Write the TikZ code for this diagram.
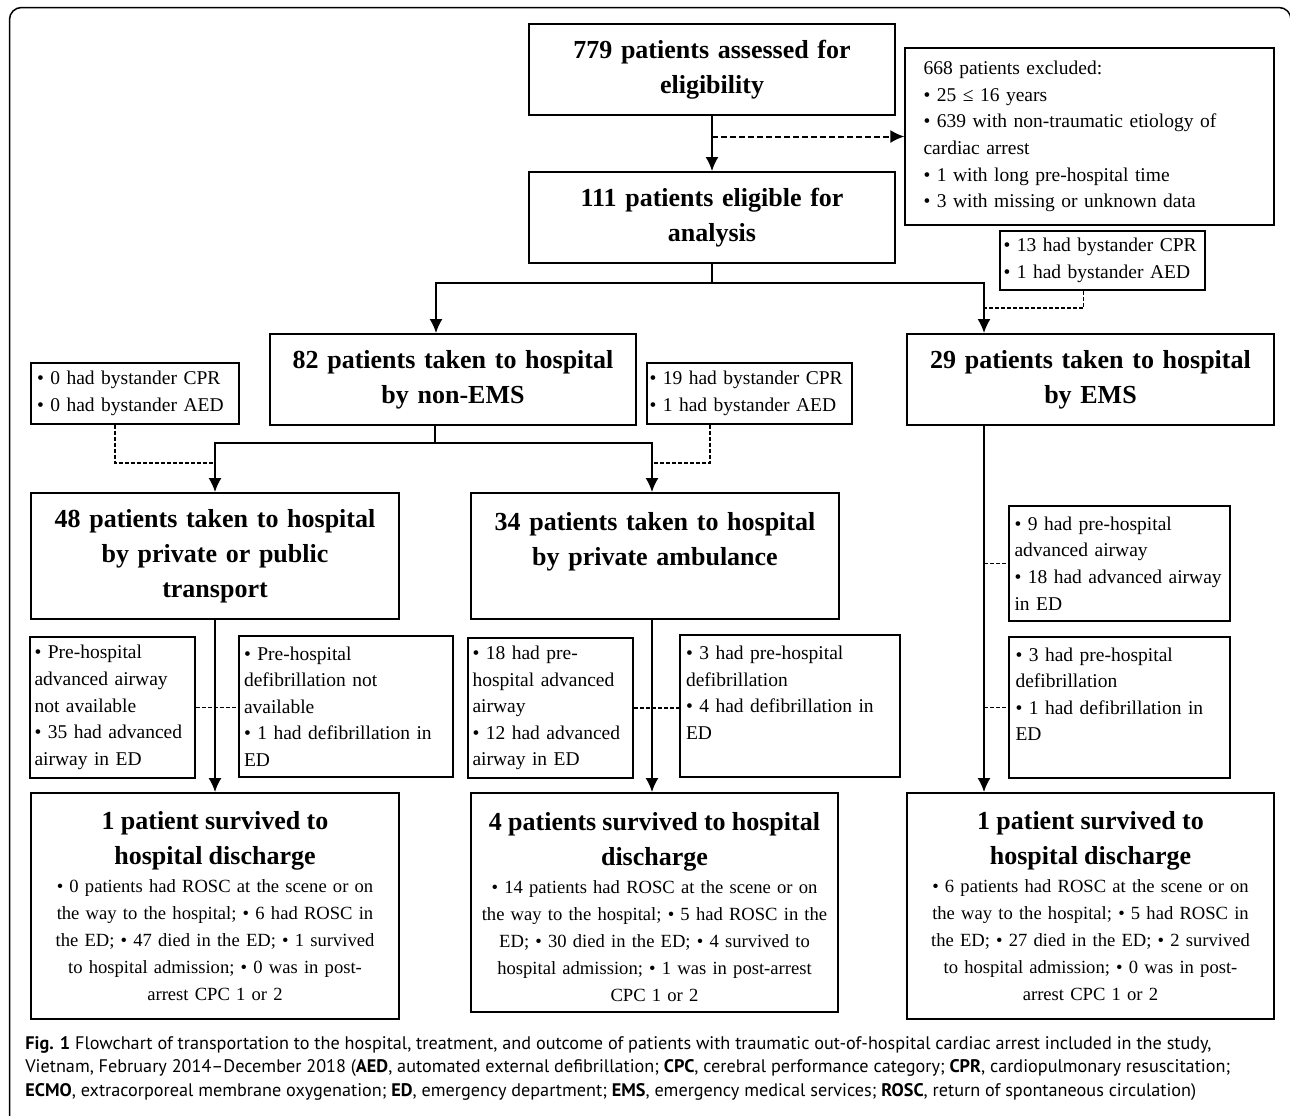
\documentclass[tikz,border=0pt]{standalone}
\usepackage{fontspec}
\setmainfont{Liberation Serif}
\newfontfamily\capfont{PT Sans}
\usetikzlibrary{arrows.meta}

\begin{document}
\begin{tikzpicture}[x=0.5pt, y=-0.5pt, >={Latex[length=7pt, width=6.5pt]},
    mainbox/.style={draw, line width=1pt, align=center, inner sep=0pt,
        font={\bfseries\fontsize{13}{17.5}\selectfont}},
    notebox/.style={draw, line width=0.6pt, align=left, inner sep=0pt,
        font={\fontsize{9.75}{13.3}\selectfont}},
    outbox/.style={draw, line width=1pt, align=center, inner sep=0pt,
        font={\fontsize{9.3}{13.5}\selectfont}},
    boxsize/.style n args={3}{minimum width=#1, minimum height=#2, text width=#3},
    dashline/.style={dash pattern=on 2pt off 1pt, line width=0.6pt}]
    \useasboundingbox[fill=white] (0,0) rectangle (1290,1115);
    \clip (0,0) rectangle (1290,1115);
    \draw[line width=0.75pt, rounded corners=6pt] (9.5,1140) -- (9.5,7.5) -- (1291,7.5) -- (1291,100);
    \draw
    (712,69.5)node(assess)[mainbox, boxsize={183pt}{45.5pt}{180pt}]{779 patients assessed for\\eligibility}
    (1089.5,136.5)node(excl)[notebox, boxsize={184.5pt}{88.5pt}{166pt}]{668 patients excluded:\\• 25 ≤ 16 years\\• 639 with non-traumatic etiology of\\cardiac arrest\\• 1 with long pre-hospital time\\• 3 with missing or unknown data}
    (712,217.5)node(elig)[mainbox, boxsize={183pt}{45.5pt}{180pt}]{111 patients eligible for\\analysis}
    (1102.5,260.5)node(bys3)[notebox, boxsize={102.5pt}{29.5pt}{99pt}]{• 13 had bystander CPR\\• 1 had bystander AED}
    (453,379.5)node(nonems)[mainbox, boxsize={183pt}{45.5pt}{180pt}]{82 patients taken to hospital\\by non-EMS}
    (1090.5,379.5)node(ems)[mainbox, boxsize={183.5pt}{45.5pt}{180pt}]{29 patients taken to hospital\\by EMS}
    (135,393.5)node(bys1)[notebox, boxsize={104pt}{30.5pt}{98pt}]{• 0 had bystander CPR\\• 0 had bystander AED}
    (749.5,393.5)node(bys2)[notebox, boxsize={102.5pt}{30.5pt}{100pt}]{• 19 had bystander CPR\\• 1 had bystander AED}
    (215,556)node(priv)[mainbox, boxsize={184pt}{63pt}{180pt}]{48 patients taken to hospital\\by private or public\\transport}
    (655,556)node(amb)[mainbox, boxsize={184pt}{63pt}{180pt}]{34 patients taken to hospital\\by private ambulance\\~}
    (1119.5,563.5)node(emsair)[notebox, boxsize={110.5pt}{57.5pt}{105pt}]{• 9 had pre-hospital\\advanced airway\\• 18 had advanced airway\\in ED}
    (112.5,707.5)node(air1)[notebox, boxsize={82.5pt}{70.5pt}{78pt}]{• Pre-hospital\\advanced airway\\not available\\• 35 had advanced\\airway in ED}
    (346,706.5)node(def1)[notebox, boxsize={107pt}{70.5pt}{102pt}]{• Pre-hospital\\defibrillation not\\available\\• 1 had defibrillation in\\ED}
    (550.5,708)node(air2)[notebox, boxsize={82.5pt}{70pt}{78pt}]{• 18 had pre-\\hospital advanced\\airway\\• 12 had advanced\\airway in ED}
    (790,706)node(def2)[notebox, boxsize={110pt}{71pt}{104pt}]{• 3 had pre-hospital\\defibrillation\\• 4 had defibrillation in\\ED\\~}
    (1119.5,707.5)node(def3)[notebox, boxsize={110.5pt}{70.5pt}{104pt}]{• 3 had pre-hospital\\defibrillation\\• 1 had defibrillation in\\ED\\~}
    (215,906)node(out1)[outbox, boxsize={184pt}{113pt}{182pt}]{{\bfseries\fontsize{13}{17.5}\selectfont 1 patient survived to\\hospital discharge\par}\vspace{0.5pt}
        • 0 patients had ROSC at the scene or on\\the way to the hospital; • 6 had ROSC in\\the ED; • 47 died in the ED; • 1 survived\\to hospital admission; • 0 was in post-\\arrest CPC 1 or 2}
    (654.5,902.5)node(out2)[outbox, boxsize={183.5pt}{109.5pt}{182pt}]{{\bfseries\fontsize{13}{17.5}\selectfont 4 patients survived to hospital\\discharge\par}\vspace{0.5pt}
        • 14 patients had ROSC at the scene or on\\the way to the hospital; • 5 had ROSC in the\\ED; • 30 died in the ED; • 4 survived to\\hospital admission; • 1 was in post-arrest\\CPC 1 or 2\par\kern-5pt}
    (1090.5,906)node(out3)[outbox, boxsize={183.5pt}{113pt}{182pt}]{{\bfseries\fontsize{13}{17.5}\selectfont 1 patient survived to\\hospital discharge\par}\vspace{0.5pt}
        • 6 patients had ROSC at the scene or on\\the way to the hospital; • 5 had ROSC in\\the ED; • 27 died in the ED; • 2 survived\\to hospital admission; • 0 was in post-\\arrest CPC 1 or 2}
    (25,1036)node(caption)[anchor=north west, align=left, inner sep=0pt, font={\capfont\fontsize{9.1}{11.8}\selectfont}]{\textbf{Fig. 1} Flowchart of transportation to the hospital, treatment, and outcome of patients with traumatic out-of-hospital cardiac arrest included in the study,\\Vietnam, February 2014–December 2018 (\textbf{AED}, automated external defibrillation; \textbf{CPC}, cerebral performance category; \textbf{CPR}, cardiopulmonary resuscitation;\\\textbf{ECMO}, extracorporeal membrane oxygenation; \textbf{ED}, emergency department; \textbf{EMS}, emergency medical services; \textbf{ROSC}, return of spontaneous circulation)};
    %
    \coordinate (ex) at (assess.south |- excl.west);
    \coordinate (j1) at (712,283);
    \coordinate (j1l) at (436,283);
    \coordinate (j1r) at (984,283);
    \coordinate (j2) at (435,443);
    \coordinate (j2l) at (215,443);
    \coordinate (j2r) at (652,443);
    \coordinate (m1) at (215,463);
    \coordinate (m2) at (652,463);
    \coordinate (m3) at (984,308);
    %
    \draw [->, thick](assess)--(elig);
    \draw [->, dash pattern=on 3pt off 1.5pt, line width=1pt](ex)--(excl);
    \draw [thick](elig)--(j1);
    \draw [->, thick](j1)--(j1l)--(j1l |- nonems.north);
    \draw [->, thick](j1)--(j1r)--(j1r |- ems.north);
    \draw [dashline]([xshift=-9.5pt]bys3.south) |- (m3);
    %
    \draw [thick](nonems.south -| j2)--(j2);
    \draw [->, thick](j2)--(j2l)--(priv);
    \draw [->, thick](j2)--(j2r)--(j2r |- amb.north);
    \draw [dashline]([xshift=-10pt]bys1.south) |- (m1);
    \draw [dashline]([xshift=-19.75pt]bys2.south) |- (m2);
    %
    \draw [dashline](air1.east)--(air1.east -| def1.west);
    \draw [dashline](air2.east)--(air2.east -| def2.west);
    \draw [dashline](emsair.west -| j1r)--(emsair.west);
    \draw [dashline](def3.west -| j1r)--(def3.west);
    \draw [->, thick](priv)--(out1);
    \draw [->, thick](amb.south -| j2r)--(out2.north -| j2r);
    \draw [->, thick](ems.south -| j1r)--(out3.north -| j1r);
\end{tikzpicture}
\end{document}
